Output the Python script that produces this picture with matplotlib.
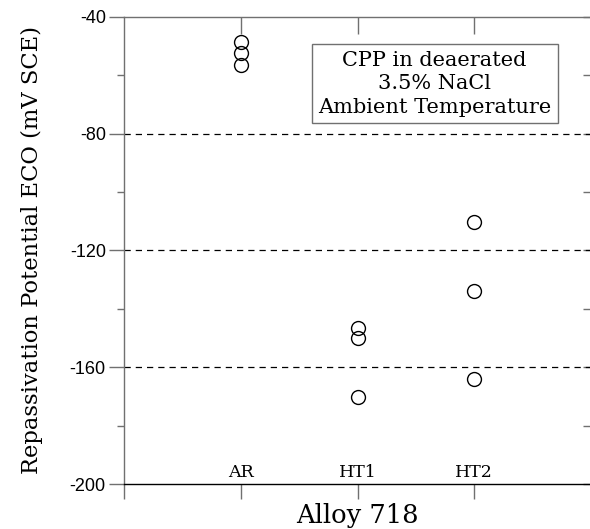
#!/usr/bin/env python3
"""
Repassivation potential (ECO) for Alloy 718 conditions
"""

import matplotlib
matplotlib.use("Agg")
import matplotlib.pyplot as plt
from matplotlib.ticker import MultipleLocator, NullLocator

# Data
conditions = ["AR", "HT1", "HT2"]
eco_ar = [-48.5, -52.5, -56.5]
eco_ht1 = [-146.7, -150.1, -170.1]
eco_ht2 = [-110.2, -133.9, -164.0]
y_ticks = [-200, -160, -120, -80, -40]
grid_levels = [-80, -120, -160]

SERIF = "DejaVu Serif"
SANS = "Liberation Sans"
GREY = "#707070"

plt.rcParams["axes.unicode_minus"] = False


def main():
    fig = plt.figure(figsize=(5.9, 5.29), dpi=100)
    ax = fig.add_axes([0.210, 0.085, 0.792, 0.883])

    # Dashed reference lines
    for level in grid_levels:
        ax.axhline(level, color="black", linestyle=(0, (5, 4)), linewidth=0.9, zorder=1)

    # Scatter points, one column per condition
    for i, values in enumerate([eco_ar, eco_ht1, eco_ht2]):
        ax.plot([i + 1] * len(values), values, linestyle="none", marker="o",
                markersize=10, markerfacecolor="none", markeredgecolor="black",
                markeredgewidth=1.0, zorder=3)
        ax.text(i + 1, -196.2, conditions[i], ha="center", va="center",
                fontsize=12.5, family=SERIF)

    ax.set_xlim(0, 4)
    ax.set_ylim(-200, -40)
    ax.set_yticks(y_ticks)
    ax.yaxis.set_minor_locator(MultipleLocator(20))
    ax.set_xticks([0, 1, 2, 3])
    ax.set_xticklabels([])

    for lab in ax.get_yticklabels():
        lab.set_family(SANS)
        lab.set_fontsize(13)

    # Tick styling: outward on left/bottom, inward on top/right
    ax.tick_params(axis="y", which="major", left=True, right=False, direction="out",
                   length=11, width=1, color=GREY, pad=2)
    ax.tick_params(axis="y", which="minor", left=True, right=False, direction="out",
                   length=5, width=1, color=GREY)
    ax.tick_params(axis="x", which="major", bottom=True, top=False, direction="out",
                   length=11, width=1, color=GREY)

    # Inward ticks on top at the category positions
    sec = ax.secondary_xaxis("top")
    sec.set_xticks([1, 2, 3])
    sec.set_xticklabels([])
    sec.tick_params(direction="in", length=12, width=1, color=GREY)
    sec.spines["top"].set_visible(False)

    # Inward minor ticks on the right
    sec_y = ax.secondary_yaxis("right")
    sec_y.yaxis.set_major_locator(NullLocator())
    sec_y.yaxis.set_minor_locator(MultipleLocator(20))
    sec_y.tick_params(which="minor", direction="in", length=6, width=1, color=GREY)
    sec_y.spines["right"].set_visible(False)

    for side in ["left", "right", "top"]:
        ax.spines[side].set_color(GREY)
        ax.spines[side].set_linewidth(1.0)
    ax.spines["bottom"].set_color("black")
    ax.spines["bottom"].set_linewidth(1.0)

    ax.set_ylabel("Repassivation Potential ECO (mV SCE)", family=SERIF,
                  fontsize=16.3, labelpad=19)
    ax.set_xlabel("Alloy 718", family=SERIF, fontsize=18.5, labelpad=-1)

    ax.text(0.665, 0.857, "CPP in deaerated\n3.5% NaCl\nAmbient Temperature",
            transform=ax.transAxes, ha="center", va="center", fontsize=15,
            family=SERIF, linespacing=1.3,
            bbox=dict(boxstyle="square,pad=0.3", facecolor="white",
                      edgecolor=GREY, linewidth=1.0))

    fig.savefig("out.png", dpi=100)
    plt.close(fig)


if __name__ == "__main__":
    main()
